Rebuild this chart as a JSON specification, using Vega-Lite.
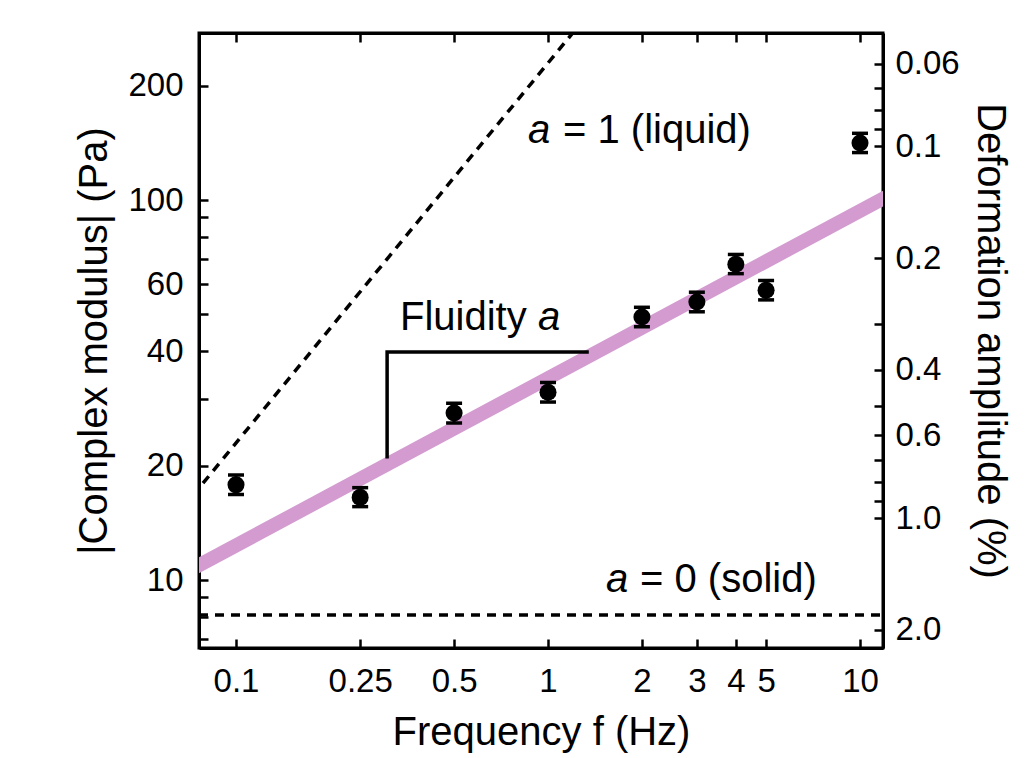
{
  "$schema": "https://vega.github.io/schema/vega-lite/v6.json",
  "width": 684,
  "height": 615,
  "autosize": {"type": "none"},
  "padding": {"left": 199, "top": 33, "right": 150, "bottom": 110},
  "background": "white",
  "config": {
    "view": {"stroke": "black", "strokeWidth": 3},
    "font": "Liberation Sans",
    "axis": {
      "domainColor": "black",
      "domainWidth": 3,
      "tickColor": "black",
      "tickWidth": 2.5,
      "tickSize": -9,
      "labelFont": "Liberation Sans",
      "labelFontSize": 33,
      "labelColor": "black",
      "labelOverlap": false,
      "labelFlush": false,
      "labelBound": false,
      "titleFont": "Liberation Sans",
      "titleFontSize": 40,
      "titleFontWeight": "normal",
      "titleColor": "black",
      "grid": false
    }
  },
  "datasets": {
    "pts": [
      {"f": 0.1, "G": 17.8, "lo": 16.8, "hi": 18.9},
      {"f": 0.25, "G": 16.5, "lo": 15.6, "hi": 17.5},
      {"f": 0.5, "G": 27.5, "lo": 25.9, "hi": 29.2},
      {"f": 1, "G": 31.2, "lo": 29.4, "hi": 33.1},
      {"f": 2, "G": 49.2, "lo": 46.4, "hi": 52.2},
      {"f": 3, "G": 53.9, "lo": 50.8, "hi": 57.2},
      {"f": 4, "G": 67.8, "lo": 64.0, "hi": 71.9},
      {"f": 5, "G": 57.9, "lo": 54.6, "hi": 61.4},
      {"f": 10, "G": 141.3, "lo": 133.3, "hi": 149.8}
    ],
    "fit": [
      {"f": 0.05, "G": 9.09},
      {"f": 15, "G": 111.9}
    ],
    "liquid": [
      {"f": 0.05, "G": 11.47},
      {"f": 1.5, "G": 344}
    ],
    "solid": [
      {"f": 0.0761, "G": 8.09},
      {"f": 11.6, "G": 8.09}
    ],
    "bracket": [
      {"f": 1.334, "G": 39.8, "o": 1},
      {"f": 0.305, "G": 39.8, "o": 2},
      {"f": 0.305, "G": 21.1, "o": 3}
    ],
    "labels": [
      {"f": 0.3354, "G": 45.5, "t": "Fluidity", "it": 0},
      {"f": 0.9283, "G": 45.5, "t": "a", "it": 1},
      {"f": 0.8627, "G": 141.3, "t": "a", "it": 1},
      {"f": 1.117, "G": 141.3, "t": "= 1 (liquid)", "it": 0},
      {"f": 1.534, "G": 9.3, "t": "a", "it": 1},
      {"f": 1.972, "G": 9.3, "t": "= 0 (solid)", "it": 0}
    ],
    "amp": [
      {"f": 1, "a": 0.06},
      {"f": 1, "a": 2.0}
    ]
  },
  "layer": [
    {
      "encoding": {
        "x": {
          "field": "f",
          "type": "quantitative",
          "scale": {"type": "log", "domain": [0.0761, 11.85], "nice": false},
          "axis": {
            "orient": "bottom",
            "title": "Frequency f (Hz)",
            "values": [0.1, 0.25, 0.5, 1, 2, 3, 4, 5, 10],
            "labelExpr": "format(datum.value, '')",
            "labelPadding": 26,
            "titlePadding": 14
          }
        },
        "y": {
          "field": "G",
          "type": "quantitative",
          "scale": {"type": "log", "domain": [6.624, 275.1], "nice": false},
          "axis": {
            "orient": "left",
            "title": "|Complex modulus| (Pa)",
            "values": [7, 8, 9, 10, 20, 30, 40, 50, 60, 70, 80, 90, 100, 200],
            "labelExpr": "indexof([10, 20, 40, 60, 100, 200], datum.value) >= 0 ? format(datum.value, 'd') : ''",
            "labelPadding": 25,
            "titlePadding": 13
          }
        }
      },
      "layer": [
        {
          "data": {"name": "fit"},
          "mark": {"type": "line", "color": "#d39bd0", "strokeWidth": 14, "strokeCap": "butt", "clip": true}
        },
        {
          "data": {"name": "liquid"},
          "mark": {"type": "line", "color": "black", "strokeWidth": 3.5, "strokeDash": [9, 7], "clip": true}
        },
        {
          "data": {"name": "solid"},
          "mark": {"type": "line", "color": "black", "strokeWidth": 3.5, "strokeDash": [9, 7], "clip": true}
        },
        {
          "data": {"name": "bracket"},
          "mark": {"type": "line", "color": "black", "strokeWidth": 3.5, "strokeCap": "square"},
          "encoding": {"order": {"field": "o", "type": "quantitative"}}
        },
        {
          "data": {"name": "pts"},
          "mark": {"type": "rule", "color": "black", "strokeWidth": 3},
          "encoding": {
            "y": {"field": "lo", "type": "quantitative"},
            "y2": {"field": "hi"}
          }
        },
        {
          "data": {"name": "pts"},
          "mark": {"type": "tick", "orient": "horizontal", "color": "black", "opacity": 1, "size": 16, "thickness": 3.5},
          "encoding": {"y": {"field": "lo", "type": "quantitative"}}
        },
        {
          "data": {"name": "pts"},
          "mark": {"type": "tick", "orient": "horizontal", "color": "black", "opacity": 1, "size": 16, "thickness": 3.5},
          "encoding": {"y": {"field": "hi", "type": "quantitative"}}
        },
        {
          "data": {"name": "pts"},
          "mark": {"type": "point", "shape": "circle", "filled": true, "color": "black", "opacity": 1, "size": 290}
        },
        {
          "data": {"name": "labels"},
          "transform": [{"filter": "datum.it == 0"}],
          "mark": {"type": "text", "align": "left", "baseline": "alphabetic", "fontSize": 40, "font": "Liberation Sans", "color": "black"},
          "encoding": {"text": {"field": "t", "type": "nominal"}}
        },
        {
          "data": {"name": "labels"},
          "transform": [{"filter": "datum.it == 1"}],
          "mark": {"type": "text", "align": "left", "baseline": "alphabetic", "fontSize": 40, "font": "Liberation Sans", "fontStyle": "italic", "color": "black"},
          "encoding": {"text": {"field": "t", "type": "nominal"}}
        }
      ]
    },
    {
      "data": {"name": "amp"},
      "mark": {"type": "point", "opacity": 0},
      "encoding": {
        "x": {
          "field": "f",
          "type": "quantitative",
          "scale": {"type": "log", "domain": [0.0761, 11.85], "nice": false},
          "axis": {
            "orient": "top",
            "title": null,
            "labels": false,
            "values": [0.1, 0.25, 0.5, 1, 2, 3, 4, 5, 10]
          }
        },
        "y": {
          "field": "a",
          "type": "quantitative",
          "scale": {"type": "log", "domain": [0.04967, 2.236], "reverse": true, "nice": false},
          "axis": {
            "orient": "right",
            "title": "Deformation amplitude (%)",
            "values": [0.06, 0.07, 0.08, 0.09, 0.1, 0.2, 0.3, 0.4, 0.5, 0.6, 0.7, 0.8, 0.9, 1, 2],
            "labelExpr": "indexof([0.06, 0.1, 0.2, 0.4, 0.6], datum.value) >= 0 ? format(datum.value, '') : (datum.value == 1 ? '1.0' : (datum.value == 2 ? '2.0' : ''))",
            "labelPadding": 21,
            "titlePadding": 10
          }
        }
      }
    }
  ],
  "resolve": {
    "scale": {"y": "independent"},
    "axis": {"x": "independent", "y": "independent"}
  }
}
